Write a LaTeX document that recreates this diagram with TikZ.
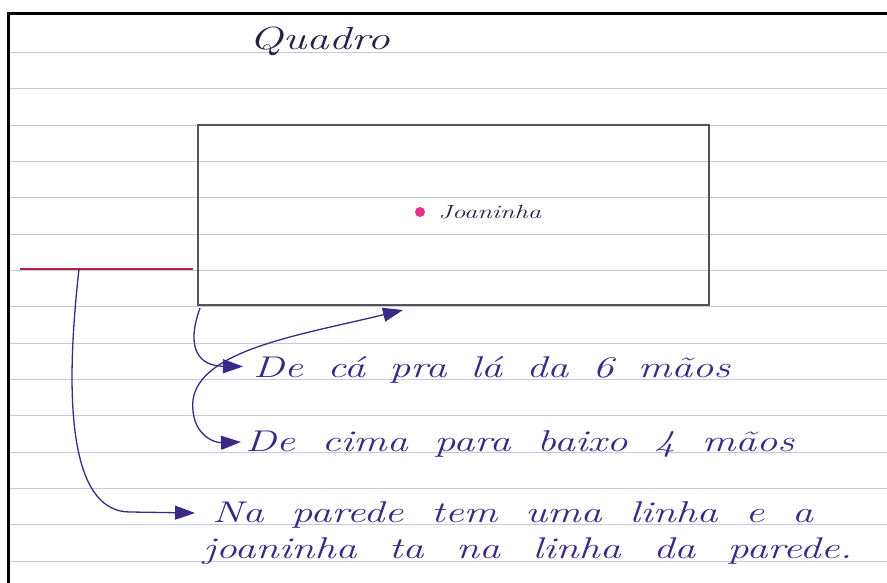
\documentclass[tikz,border=0pt]{standalone}
\usepackage{tikz}
\usetikzlibrary{arrows.meta, positioning}

\definecolor{tinta}{RGB}{60,40,135}
\definecolor{escuro}{RGB}{35,35,75}
\definecolor{lapis}{RGB}{85,85,85}
\definecolor{vermelho}{RGB}{185,35,65}
\definecolor{rosa}{RGB}{230,50,140}
\definecolor{azulpauta}{RGB}{192,202,222}

% handwriting: stretched words, wider letters
\newcommand{\escrita}[2]{\scalebox{1.4}[1]{\makebox[\dimexpr #1*5/7\relax][s]{#2}}}

\begin{document}
\begin{tikzpicture}[
  x=1pt, y=-1pt,
  pauta/.style={draw=azulpauta, line width=0.8pt},
  quadro/.style={draw=lapis, line width=1.1pt, minimum width=511pt, minimum height=180pt, inner sep=0pt},
  ponto/.style={circle, fill=rosa, minimum size=10pt, inner sep=0pt},
  texto/.style={inner sep=0pt, text=tinta, anchor=base west, font=\itshape\fontsize{30}{32}\selectfont},
  caneta/.style={draw=tinta, line width=1.3pt},
  seta/.style={caneta, -{Triangle[length=20pt, width=14pt]}},
  setas/.style={caneta, {Triangle[length=20pt, width=14pt]}-{Triangle[length=20pt, width=14pt]}},
]
  \useasboundingbox (0,0) rectangle (887,583);
  \fill[white] (0,0) rectangle (887,583);

  % folha pautada
  \foreach \y in {52,88,125,161,197,234,270,306,343,379,415,452,488,524,561}
    \draw[pauta] (10,\y) -- (887,\y);
  \draw[line width=3pt] (8,583) -- (8,14) -- (887,14);

  \node[texto, text=escuro, font=\itshape\fontsize{32}{34}\selectfont] (titulo) at (249,50) {\escrita{145pt}{Quadro}};
  \node[quadro] (quadro) at (453.5,215) {};
  \node[ponto] (ponto) at (420,212) {};
  \node[texto, text=escuro, font=\itshape\fontsize{19}{21}\selectfont, right=13pt of ponto] (joaninha) {\escrita{105pt}{Joaninha}};

  % linha da parede
  \draw[draw=vermelho, line width=1.5pt] (20,269) -- (193,269);
  \coordinate (linha) at (79,269);

  \node[texto] (deca) at (253,377) {\escrita{477pt}{De cá pra lá da 6 mãos}};
  \node[texto] (decima) at (245,451) {\escrita{549pt}{De cima para baixo 4 mãos}};
  \node[texto] (parede1) at (212,522) {\escrita{601pt}{Na parede tem uma linha e a}};
  \node[texto] (parede2) at (203,558) {\escrita{649pt}{joaninha ta na linha da parede.}};

  \coordinate (canto) at (200,308);
  \coordinate (topo) at (403,310);

  \draw[seta] (canto) .. controls (185,350) and (200,366) .. ([shift={(-10pt,3pt)}]deca.west);
  \draw[setas] (topo) .. controls (300,335) and (200,350) .. (193,400)
    .. controls (190,435) and (215,443) .. ([shift={(-4pt,1.5pt)}]decima.west);
  \draw[seta] (linha) .. controls (62,420) and (75,512) .. (130,512)
    -- ([shift={(-17pt,1.5pt)}]parede1.west);
\end{tikzpicture}
\end{document}
